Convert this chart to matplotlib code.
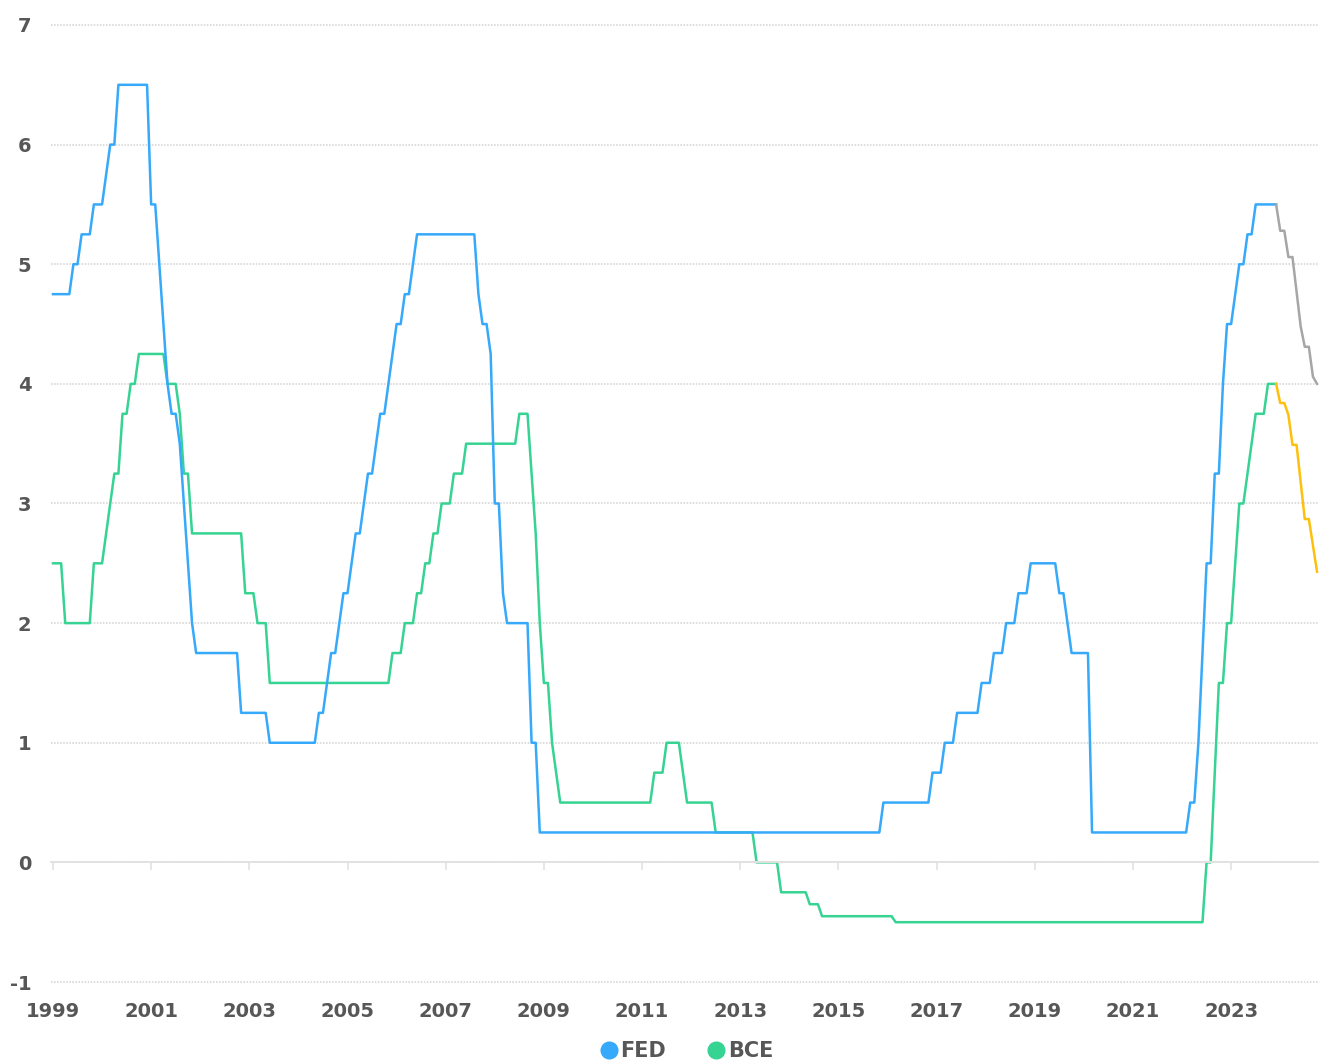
import matplotlib
matplotlib.use('Agg')
import matplotlib.pyplot as plt
from matplotlib.lines import Line2D

# vertices of each line (month, rate in %)
fed_dates = ['1999-01', '1999-05', '1999-06', '1999-07', '1999-08', '1999-10', '1999-11',
             '2000-01', '2000-02', '2000-03', '2000-04', '2000-05', '2000-12',
             '2001-01', '2001-02', '2001-03', '2001-04', '2001-05', '2001-06', '2001-07',
             '2001-08', '2001-09', '2001-10', '2001-11', '2001-12',
             '2002-10', '2002-11', '2003-05', '2003-06',
             '2004-05', '2004-06', '2004-07', '2004-08', '2004-09', '2004-10', '2004-11', '2004-12',
             '2005-01', '2005-02', '2005-03', '2005-04', '2005-05', '2005-06', '2005-07',
             '2005-08', '2005-09', '2005-10', '2005-11', '2005-12',
             '2006-01', '2006-02', '2006-03', '2006-04', '2006-05', '2006-06',
             '2007-08', '2007-09', '2007-10', '2007-11', '2007-12',
             '2008-01', '2008-02', '2008-03', '2008-04', '2008-09', '2008-10', '2008-11', '2008-12',
             '2015-11', '2015-12', '2016-11', '2016-12',
             '2017-02', '2017-03', '2017-05', '2017-06', '2017-11', '2017-12',
             '2018-02', '2018-03', '2018-05', '2018-06', '2018-08', '2018-09', '2018-11', '2018-12',
             '2019-06', '2019-07', '2019-08', '2019-09', '2019-10', '2020-02', '2020-03',
             '2022-02', '2022-03', '2022-04', '2022-05', '2022-06', '2022-07', '2022-08',
             '2022-09', '2022-10', '2022-11', '2022-12',
             '2023-01', '2023-02', '2023-03', '2023-04', '2023-05', '2023-06', '2023-07', '2023-12']
fed_rates = [4.75, 4.75, 5.0, 5.0, 5.25, 5.25, 5.5,
             5.5, 5.75, 6.0, 6.0, 6.5, 6.5,
             5.5, 5.5, 5.0, 4.5, 4.0, 3.75, 3.75,
             3.5, 3.0, 2.5, 2.0, 1.75,
             1.75, 1.25, 1.25, 1.0,
             1.0, 1.25, 1.25, 1.5, 1.75, 1.75, 2.0, 2.25,
             2.25, 2.5, 2.75, 2.75, 3.0, 3.25, 3.25,
             3.5, 3.75, 3.75, 4.0, 4.25,
             4.5, 4.5, 4.75, 4.75, 5.0, 5.25,
             5.25, 4.75, 4.5, 4.5, 4.25,
             3.0, 3.0, 2.25, 2.0, 2.0, 1.0, 1.0, 0.25,
             0.25, 0.5, 0.5, 0.75,
             0.75, 1.0, 1.0, 1.25, 1.25, 1.5,
             1.5, 1.75, 1.75, 2.0, 2.0, 2.25, 2.25, 2.5,
             2.5, 2.25, 2.25, 2.0, 1.75, 1.75, 0.25,
             0.25, 0.5, 0.5, 1.0, 1.75, 2.5, 2.5,
             3.25, 3.25, 4.0, 4.5,
             4.5, 4.75, 5.0, 5.0, 5.25, 5.25, 5.5, 5.5]

bce_dates = ['1999-01', '1999-03', '1999-04', '1999-10', '1999-11',
             '2000-01', '2000-04', '2000-05', '2000-06', '2000-07', '2000-08', '2000-09', '2000-10',
             '2001-04', '2001-05', '2001-07', '2001-08', '2001-09', '2001-10', '2001-11',
             '2002-11', '2002-12', '2003-02', '2003-03', '2003-05', '2003-06',
             '2005-11', '2005-12', '2006-02', '2006-03', '2006-05', '2006-06', '2006-07',
             '2006-08', '2006-09', '2006-10', '2006-11', '2006-12',
             '2007-02', '2007-03', '2007-05', '2007-06',
             '2008-06', '2008-07', '2008-09', '2008-10', '2008-11', '2008-12',
             '2009-01', '2009-02', '2009-03', '2009-04', '2009-05',
             '2011-03', '2011-04', '2011-06', '2011-07', '2011-10', '2011-11', '2011-12',
             '2012-06', '2012-07', '2013-04', '2013-05', '2013-10', '2013-11',
             '2014-05', '2014-06', '2014-08', '2014-09', '2016-02', '2016-03',
             '2022-06', '2022-07', '2022-08', '2022-09', '2022-10', '2022-11', '2022-12',
             '2023-01', '2023-02', '2023-03', '2023-04', '2023-05', '2023-06', '2023-07',
             '2023-09', '2023-10', '2023-12']
bce_rates = [2.5, 2.5, 2.0, 2.0, 2.5,
             2.5, 3.25, 3.25, 3.75, 3.75, 4.0, 4.0, 4.25,
             4.25, 4.0, 4.0, 3.75, 3.25, 3.25, 2.75,
             2.75, 2.25, 2.25, 2.0, 2.0, 1.5,
             1.5, 1.75, 1.75, 2.0, 2.0, 2.25, 2.25,
             2.5, 2.5, 2.75, 2.75, 3.0,
             3.0, 3.25, 3.25, 3.5,
             3.5, 3.75, 3.75, 3.25, 2.75, 2.0,
             1.5, 1.5, 1.0, 0.75, 0.5,
             0.5, 0.75, 0.75, 1.0, 1.0, 0.75, 0.5,
             0.5, 0.25, 0.25, 0.0, 0.0, -0.25,
             -0.25, -0.35, -0.35, -0.45, -0.45, -0.5,
             -0.5, 0.0, 0.0, 0.75, 1.5, 1.5, 2.0,
             2.0, 2.5, 3.0, 3.0, 3.25, 3.5, 3.75,
             3.75, 4.0, 4.0]

# forward paths after end of 2023
fed_fwd_dates = ['2023-12', '2024-01', '2024-02', '2024-03', '2024-04', '2024-05',
                 '2024-06', '2024-07', '2024-08', '2024-09', '2024-10']
fed_fwd_rates = [5.5, 5.28, 5.28, 5.06, 5.06, 4.77, 4.48, 4.31, 4.31, 4.06, 4.0]
bce_fwd_dates = ['2023-12', '2024-01', '2024-02', '2024-03', '2024-04', '2024-05',
                 '2024-06', '2024-07', '2024-08', '2024-09', '2024-10']
bce_fwd_rates = [4.0, 3.84, 3.84, 3.74, 3.49, 3.49, 3.18, 2.87, 2.87, 2.65, 2.43]

year_ticks = [1999, 2001, 2003, 2005, 2007, 2009, 2011, 2013, 2015, 2017, 2019, 2021, 2023]
rate_ticks = [-1, 0, 1, 2, 3, 4, 5, 6, 7]

BLUE = '#36a9fb'
GREEN = '#36d392'
GREY = '#a6a6a6'
ORANGE = '#fdc00e'
TEXT = '#575757'

plt.rcParams['font.family'] = ['DejaVu Sans']


def to_year(s):
    return int(s[:4]) + (int(s[5:7]) - 1) / 12


W, H = 1319, 1061
fig = plt.figure(figsize=(W / 100, H / 100), dpi=100)
ax = fig.add_axes([51 / W, 1 - 984.4 / H, 1 - 51 / W, (984.4 - 22.6) / H])

ax.plot([to_year(d) for d in bce_dates], bce_rates, color=GREEN, lw=1.8)
ax.plot([to_year(d) for d in bce_fwd_dates], bce_fwd_rates, color=ORANGE, lw=1.8)
ax.plot([to_year(d) for d in fed_dates], fed_rates, color=BLUE, lw=1.8)
ax.plot([to_year(d) for d in fed_fwd_dates], fed_fwd_rates, color=GREY, lw=1.8)

ax.set_xlim(1998.96, 2024.79)
ax.set_ylim(-1.02, 7.02)

ax.set_yticks(rate_ticks)
ax.set_yticklabels([str(v) for v in rate_ticks])
ax.tick_params(axis='y', length=0, pad=14, labelsize=14, labelcolor=TEXT)
for lab in ax.get_yticklabels():
    lab.set_fontweight('bold')
ax.grid(axis='y', color='#d2d2d2', lw=1.1, linestyle=(0, (1, 1)))
ax.set_axisbelow(True)

for side in ['top', 'right', 'left']:
    ax.spines[side].set_visible(False)
ax.spines['bottom'].set_position(('data', 0))
ax.spines['bottom'].set_color('#e2e2e2')
ax.spines['bottom'].set_linewidth(1.4)
ax.set_xticks(year_ticks)
ax.tick_params(axis='x', direction='out', length=6, width=1.2, color='#e2e2e2',
               labelbottom=False)

sec = ax.secondary_xaxis('bottom')
sec.set_xticks(year_ticks)
sec.set_xticklabels([str(y) for y in year_ticks])
sec.tick_params(length=0, pad=13, labelsize=14, labelcolor=TEXT)
sec.spines['bottom'].set_visible(False)
for lab in sec.get_xticklabels():
    lab.set_fontweight('bold')

handles = [Line2D([], [], ls='none', marker='o', markersize=12, color=BLUE),
           Line2D([], [], ls='none', marker='o', markersize=12, color=GREEN)]
leg = fig.legend(handles, ['FED', 'BCE'], loc='center', bbox_to_anchor=(0.52, 0.009),
                 ncol=2, frameon=False, handletextpad=0.05, columnspacing=1.9,
                 handlelength=1.0, prop={'size': 15, 'weight': 'bold'})
for t in leg.get_texts():
    t.set_color(TEXT)

fig.savefig('out.png', dpi=100)
